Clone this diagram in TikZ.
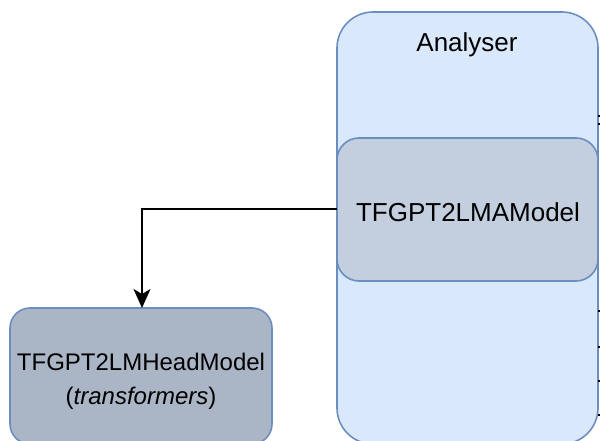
\documentclass[tikz,border=0pt]{standalone}
\usepackage{fontspec}
\setmainfont{Liberation Sans}
\usetikzlibrary{arrows.meta}
\definecolor{contfill}{HTML}{DAE8FC}
\definecolor{contline}{HTML}{6C8EBF}
\definecolor{innerfill}{HTML}{C3CFDF}
\definecolor{headfill}{HTML}{AAB6C6}
\tikzset{
  box/.style={draw=contline, line width=1.6pt, inner sep=0pt, outer sep=0pt},
  lbl/.style={font=\fontsize{24}{34}\selectfont, text=black, align=center},
  biglbl/.style={font=\fontsize{26}{34}\selectfont, text=black, align=center},
  conn/.style={draw=black, line width=1.6pt},
  stub/.style={draw=black, line width=1.2pt}
}
\begin{document}
\begin{tikzpicture}[x=1pt,y=-1pt]
\useasboundingbox (0,0) rectangle (600,441);
\clip (0,0) rectangle (600,441);
% container
\path[box, fill=contfill, rounded corners=36pt] (337,12) rectangle (598,444);
\coordinate (cont) at (467,228);
\node[biglbl] (title) at (467,45) {Analyser};
% inner model
\path[box, fill=innerfill, rounded corners=22pt] (337,138) rectangle (598,281);
\node[biglbl] (inner) at (468,212) {TFGPT2LMAModel};
\coordinate (innerW) at (337,209);
% head model
\path[box, fill=headfill, rounded corners=20pt] (10,308) rectangle (272,444);
\node[lbl] (head) at (141,381) {TFGPT2LMHeadModel\\(\textit{transformers})};
\coordinate (headN) at (142,308);
% connector
\draw[conn, -{Stealth[length=19pt,width=17pt,inset=5pt]}] (innerW) -| (headN);
% cut-off connectors on the right edge
\foreach \yy [count=\i] in {116,124,311,347,381,415}{
  \coordinate (s\i) at (598,\yy);
  \coordinate (e\i) at (601,\yy);
  \draw[stub] (s\i) -- (e\i);
}
\end{tikzpicture}
\end{document}
